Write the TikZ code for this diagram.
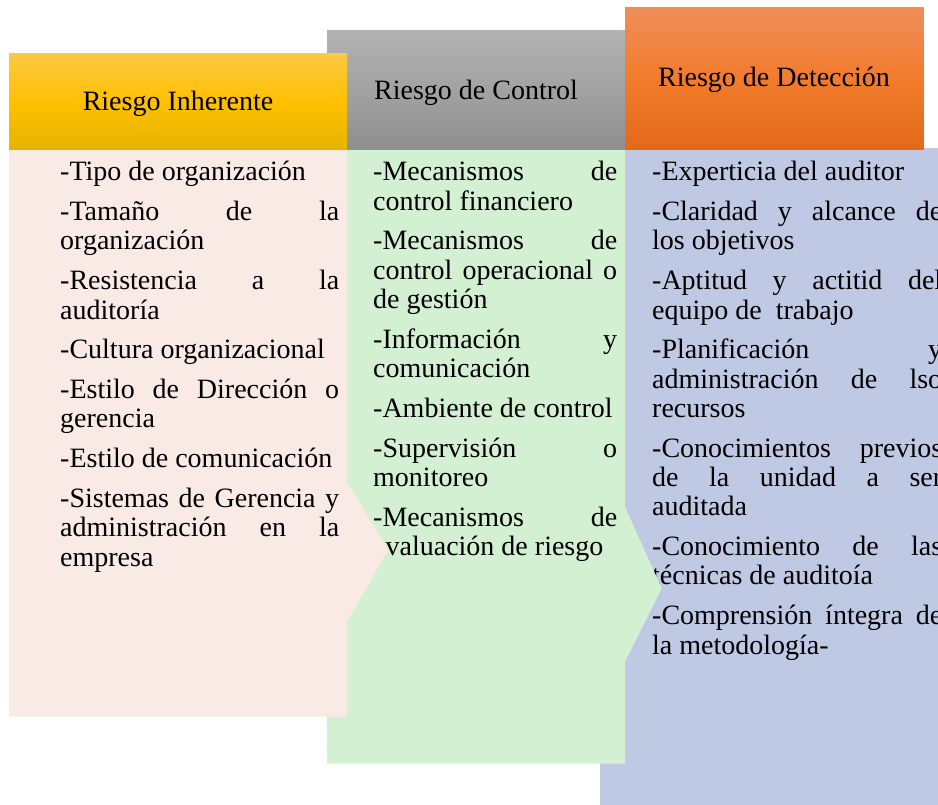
\documentclass[tikz,border=0pt]{standalone}
\usepackage{fontspec}
\setmainfont{Liberation Serif}
\definecolor{pinkb}{HTML}{FAEAE6}
\definecolor{greenb}{HTML}{D3F0D3}
\definecolor{blueb}{HTML}{C0C9E4}
\definecolor{goldT}{HTML}{FDC843}
\definecolor{goldM}{HTML}{FFC000}
\definecolor{goldB}{HTML}{E4B400}
\definecolor{grayT}{HTML}{B2B2B2}
\definecolor{grayM}{HTML}{A2A2A2}
\definecolor{grayB}{HTML}{8E8E8E}
\definecolor{orT}{HTML}{EF8E5A}
\definecolor{orM}{HTML}{F27B2C}
\definecolor{orB}{HTML}{E2691A}
\tikzset{
  coltext/.style={anchor=north west, inner sep=0pt, align=justify,
    font=\fontsize{28}{29.3}\selectfont},
  hdrtext/.style={anchor=base, inner sep=0pt, font=\fontsize{28}{29.3}\selectfont},
}
\newcommand{\colsetup}{\setlength{\parskip}{10.5pt}\setlength{\parindent}{0pt}\hyphenpenalty=10000 \exhyphenpenalty=10000 \tolerance=10000 \rule{0pt}{22pt}}
\begin{document}
\begin{tikzpicture}[x=1pt,y=-1pt]
\clip (0,0) rectangle (938,805);
\useasboundingbox (0,0) rectangle (938,805);
% blue column
\fill[blueb] (600,148) rectangle (938,805);
\node[coltext, text width=290pt] (tblue) at (652,158.7) {\colsetup
-Experticia del auditor\par
-Claridad y alcance de \linebreak los objetivos\par
-Aptitud y actitid del \linebreak equipo de\ \ trabajo\par
-Planificación y \linebreak administración de lso \linebreak recursos\par
-Conocimientos previos \linebreak de la unidad a ser \linebreak auditada\par
-Conocimiento de las \linebreak técnicas de auditoía\par
-Comprensión íntegra de \linebreak la metodología-};
% green column
\fill[greenb] (327,150) -- (625,150) -- (625,507) -- (661.7,588.3) -- (625,661.7) -- (625,763.5) -- (327,763.5) -- cycle;
\node[coltext, text width=244pt] (tgreen) at (373,158.7) {\colsetup
-Mecanismos de \linebreak control financiero\par
-Mecanismos de \linebreak control operacional o \linebreak de gestión\par
-Información y \linebreak comunicación\par
-Ambiente de control\par
-Supervisión o \linebreak monitoreo\par
-Mecanismos de \linebreak evaluación de riesgo};
% pink column
\fill[pinkb] (9,150) -- (347,150) -- (347,481.7) -- (388.3,550) -- (347,621.7) -- (347,716.7) -- (9,716.7) -- cycle;
\node[coltext, text width=279pt] (tpink) at (60,158.7) {\colsetup
-Tipo de organización\par
-Tamaño de la \linebreak organización\par
-Resistencia a la \linebreak auditoría\par
-Cultura organizacional\par
-Estilo de Dirección o \linebreak gerencia\par
-Estilo de comunicación\par
-Sistemas de Gerencia y \linebreak administración en la \linebreak empresa};
% headers
\shade[top color=grayT, bottom color=grayB, middle color=grayM] (327,31) rectangle (625,150);
\shade[top color=goldT, bottom color=goldB, middle color=goldM] (9,54) rectangle (347,150);
\shade[top color=orT, bottom color=orB, middle color=orM] (625,8) rectangle (923.5,150);
\node[hdrtext] (h1) at (178,111) {Riesgo Inherente};
\node[hdrtext] (h2) at (476,99.5) {Riesgo de Control};
\node[hdrtext] (h3) at (774,87) {Riesgo de Detección};
\end{tikzpicture}
\end{document}
